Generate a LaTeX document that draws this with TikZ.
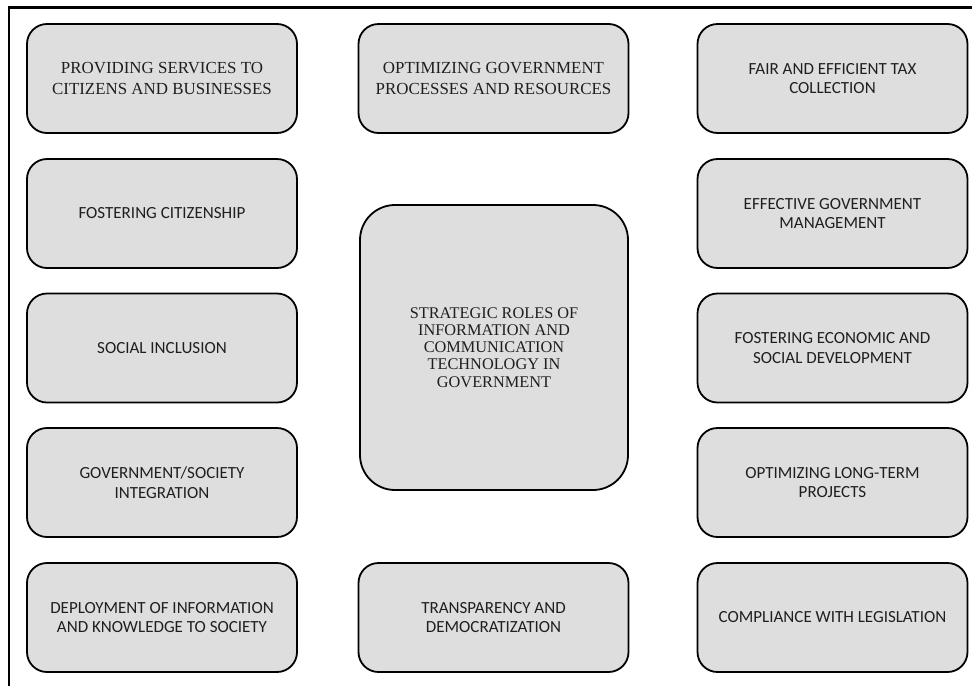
\documentclass[tikz,border=0pt]{standalone}
\usepackage{fontspec}
\setmainfont{Liberation Serif}
\newfontfamily\calfont{Carlito}
\definecolor{boxgray}{HTML}{DEDEDE}
\tikzset{
	rolebox/.style={draw=black,line width=1.8pt,fill=boxgray,rounded corners=20pt,
		minimum width=270pt,minimum height=109pt,align=center,text=black!88,inner sep=2pt},
	sanstext/.style={font=\calfont\fontsize{17}{19.5}\selectfont},
	seriftext/.style={font=\fontsize{16.9}{21.5}\selectfont}
}
\begin{document}
\begin{tikzpicture}[x=1pt,y=-1pt]
	\useasboundingbox (0,0) rectangle (972,686);
	% frame (top and left only)
	\draw[line width=2.5pt] (972,7.5)--(9,7.5)--(9,686);
	% top row
	\node[rolebox,seriftext] (services) at (162,78.5) {PROVIDING SERVICES TO\\CITIZENS\ AND BUSINESSES};
	\node[rolebox,seriftext] (processes) at (493.5,78.5) {OPTIMIZING\ GOVERNMENT\\PROCESSES AND RESOURCES};
	\node[rolebox,sanstext] (tax) at (832.5,78.5) {FAIR AND EFFICIENT TAX\\COLLECTION};
	% left column
	\node[rolebox,sanstext] (citizenship) at (162,213.5) {FOSTERING CITIZENSHIP};
	\node[rolebox,sanstext] (inclusion) at (162,348) {SOCIAL INCLUSION};
	\node[rolebox,sanstext] (integration) at (162,482.5) {GOVERNMENT/SOCIETY\\INTEGRATION};
	\node[rolebox,sanstext] (knowledge) at (162,617.5) {DEPLOYMENT OF INFORMATION\\AND KNOWLEDGE TO SOCIETY};
	% right column
	\node[rolebox,sanstext] (management) at (832.5,213.5) {EFFECTIVE GOVERNMENT\\MANAGEMENT};
	\node[rolebox,sanstext] (development) at (832.5,348) {FOSTERING ECONOMIC AND\\SOCIAL DEVELOPMENT};
	\node[rolebox,sanstext] (projects) at (832.5,482.5) {OPTIMIZING LONG-TERM\\PROJECTS};
	\node[rolebox,sanstext] (legislation) at (832.5,617.5) {COMPLIANCE WITH LEGISLATION};
	% middle
	\node[rolebox,sanstext] (transparency) at (493.5,617.5) {TRANSPARENCY AND\\DEMOCRATIZATION};
	\node[rolebox,minimum width=268pt,minimum height=285pt,rounded corners=35pt,
		font=\fontsize{16.3}{17.2}\selectfont] (ict) at (494,347.5)
		{STRATEGIC\ ROLES OF\\INFORMATION\ AND\\COMMUNICATION\\TECHNOLOGY\ IN\\GOVERNMENT};
\end{tikzpicture}
\end{document}
